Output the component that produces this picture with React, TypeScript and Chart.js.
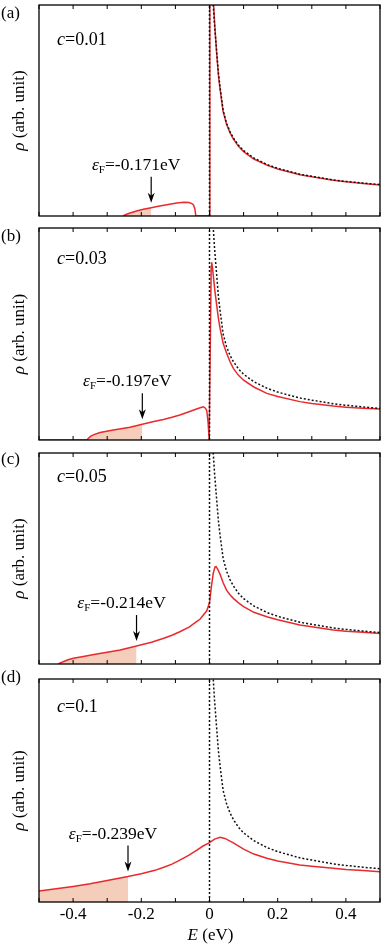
import React, { useEffect, useRef } from "react";
import { Chart, registerables } from "chart.js";

Chart.register(...registerables);

// ---------- data ----------
const X_TICK_LABELS = ["-0.4", "-0.2", "0", "0.2", "0.4"];
const PANEL_LABELS = ["(a)", "(b)", "(c)", "(d)"];
const CONCENTRATIONS = ["0.01", "0.03", "0.05", "0.1"];
const FERMI_LEVELS = [-0.171, -0.197, -0.214, -0.239];
const FERMI_TEXTS = ["-0.171eV", "-0.197eV", "-0.214eV", "-0.239eV"];

// clean DOS (black dotted), same in all panels
const CLEAN_E = [0, 0, 0.008, 0.011, 0.015, 0.021, 0.026, 0.031, 0.04, 0.05, 0.06, 0.07, 0.085, 0.1, 0.13, 0.17, 0.2, 0.265, 0.3, 0.363, 0.4, 0.45, 0.5];
const CLEAN_RHO = [0, 1.3, 1.3, 1.0, 0.9, 0.78, 0.68, 0.61, 0.5, 0.44, 0.4, 0.37, 0.335, 0.31, 0.275, 0.243, 0.226, 0.198, 0.188, 0.171, 0.164, 0.156, 0.149];

// disordered DOS (red), c = 0.01
const RED_A_E = [-0.253, -0.245, -0.233, -0.214, -0.194, -0.171, -0.15, -0.125, -0.096, -0.075, -0.06, -0.052, -0.047, -0.043, -0.04, 0.0005, 0.001, 0.009, 0.012, 0.016, 0.021, 0.026, 0.031, 0.04, 0.05, 0.06, 0.07, 0.085, 0.1, 0.13, 0.17, 0.2, 0.265, 0.3, 0.363, 0.4, 0.45, 0.5];
const RED_A_RHO = [0, 0.007, 0.014, 0.024, 0.032, 0.039, 0.046, 0.053, 0.062, 0.065, 0.064, 0.059, 0.052, 0.035, 0, 0, 1.3, 1.3, 1.0, 0.89, 0.77, 0.67, 0.6, 0.495, 0.435, 0.395, 0.365, 0.33, 0.305, 0.27, 0.24, 0.223, 0.196, 0.186, 0.169, 0.162, 0.154, 0.147];

// c = 0.03
const RED_B_E = [-0.5, -0.36, -0.35, -0.341, -0.321, -0.282, -0.233, -0.197, -0.16, -0.135, -0.11, -0.087, -0.06, -0.038, -0.025, -0.018, -0.012, -0.008, -0.004, -0.001, 0.0005, 0.005, 0.0064, 0.009, 0.011, 0.016, 0.021, 0.026, 0.031, 0.04, 0.05, 0.06, 0.07, 0.085, 0.1, 0.13, 0.168, 0.2, 0.265, 0.3, 0.363, 0.4, 0.45, 0.5];
const RED_B_RHO = [0, 0, 0.016, 0.024, 0.035, 0.047, 0.06, 0.074, 0.088, 0.097, 0.107, 0.118, 0.133, 0.146, 0.153, 0.157, 0.15, 0.138, 0.08, 0, 0, 0.82, 0.838, 0.81, 0.778, 0.7, 0.637, 0.575, 0.527, 0.456, 0.41, 0.37, 0.338, 0.305, 0.282, 0.25, 0.22, 0.205, 0.181, 0.172, 0.16, 0.155, 0.15, 0.146];

// c = 0.05
const RED_C_E = [-0.443, -0.436, -0.429, -0.415, -0.399, -0.37, -0.331, -0.3, -0.262, -0.214, -0.17, -0.134, -0.11, -0.087, -0.06, -0.04, -0.028, -0.018, -0.008, 0, 0.005, 0.011, 0.016, 0.019, 0.024, 0.031, 0.04, 0.05, 0.06, 0.07, 0.085, 0.1, 0.13, 0.168, 0.2, 0.265, 0.3, 0.363, 0.4, 0.45, 0.5];
const RED_C_RHO = [0, 0.006, 0.011, 0.02, 0.027, 0.036, 0.047, 0.056, 0.066, 0.085, 0.103, 0.122, 0.136, 0.153, 0.175, 0.198, 0.212, 0.232, 0.252, 0.29, 0.36, 0.43, 0.46, 0.462, 0.45, 0.425, 0.385, 0.35, 0.328, 0.311, 0.29, 0.272, 0.245, 0.224, 0.21, 0.185, 0.177, 0.161, 0.155, 0.15, 0.145];

// c = 0.1
const RED_D_E = [-0.5, -0.45, -0.4, -0.35, -0.3, -0.239, -0.2, -0.16, -0.134, -0.11, -0.087, -0.06, -0.038, -0.02, 0, 0.015, 0.031, 0.045, 0.07, 0.1, 0.13, 0.168, 0.2, 0.265, 0.3, 0.363, 0.4, 0.45, 0.5];
const RED_D_RHO = [0.049, 0.059, 0.07, 0.082, 0.096, 0.114, 0.127, 0.142, 0.156, 0.17, 0.188, 0.21, 0.232, 0.25, 0.266, 0.282, 0.29, 0.285, 0.265, 0.237, 0.215, 0.196, 0.184, 0.166, 0.16, 0.151, 0.146, 0.141, 0.136];

const RED_E = [RED_A_E, RED_B_E, RED_C_E, RED_D_E];
const RED_RHO = [RED_A_RHO, RED_B_RHO, RED_C_RHO, RED_D_RHO];

// ---------- layout / style ----------
const SERIF = '"Liberation Serif", "Times New Roman", Times, serif';
const RED = "rgb(232, 42, 46)";
const FILL = "rgb(244, 206, 186)";

const LAYOUT = [
  { top: 0, height: 222, padTop: 5, padBottom: 6, labelY: 17.5, cY: 45 },
  { top: 222, height: 225, padTop: 6, padBottom: 7, labelY: 19, cY: 42 },
  { top: 447, height: 219, padTop: 6, padBottom: 2, labelY: 17, cY: 35 },
  { top: 666, height: 282, padTop: 13, padBottom: 0, labelY: 16, cY: 46 },
];

type P = { x: number; y: number };
const toPoints = (xs: number[], ys: number[]): P[] => xs.map((x, i) => ({ x, y: ys[i] }));

type Part = { t: string; font: string; dy?: number };
function drawRich(ctx: CanvasRenderingContext2D, parts: Part[], x: number, y: number, align: "left" | "center") {
  let w = 0;
  for (const p of parts) {
    ctx.font = p.font;
    w += ctx.measureText(p.t).width;
  }
  let cx = align === "center" ? x - w / 2 : x;
  ctx.textAlign = "left";
  ctx.textBaseline = "alphabetic";
  for (const p of parts) {
    ctx.font = p.font;
    ctx.fillText(p.t, cx, y + (p.dy || 0));
    cx += ctx.measureText(p.t).width;
  }
}

function labelFor(v: number): string {
  for (const l of X_TICK_LABELS) if (Math.abs(parseFloat(l) - v) < 1e-6) return l;
  return "";
}

function Panel({ idx }: { idx: number }) {
  const ref = useRef<HTMLCanvasElement>(null);
  const L = LAYOUT[idx];
  useEffect(() => {
    const red = toPoints(RED_E[idx], RED_RHO[idx]);
    const clean = toPoints(CLEAN_E, CLEAN_RHO);
    const ef = FERMI_LEVELS[idx];
    const fill = red.filter((p) => p.x <= ef + 1e-9);
    const efPoint = red.find((p) => Math.abs(p.x - ef) < 1e-9) || fill[fill.length - 1];
    const isBottom = idx === 3;
    const f17 = `17px ${SERIF}`;
    const i17 = `italic 17px ${SERIF}`;
    const f18 = `18px ${SERIF}`;
    const i18 = `italic 18px ${SERIF}`;
    const fAnn = `17.5px ${SERIF}`;
    const iAnn = `italic 17.5px ${SERIF}`;

    const decor = {
      id: "decor" + idx,
      afterDatasetsDraw(chart: any) {
        const { ctx, chartArea: ca, scales } = chart;
        const xs = scales.x;
        const ys = scales.y;
        ctx.save();
        ctx.strokeStyle = "#000";
        ctx.fillStyle = "#000";
        ctx.lineWidth = 1.3;
        ctx.strokeRect(ca.left, ca.top, ca.right - ca.left, ca.bottom - ca.top);
        ctx.lineWidth = 1;
        for (const t of xs.ticks) {
          const px = xs.getPixelForValue(t.value);
          ctx.beginPath();
          ctx.moveTo(px, ca.bottom);
          ctx.lineTo(px, ca.bottom - 4);
          ctx.moveTo(px, ca.top);
          ctx.lineTo(px, ca.top + 4);
          ctx.stroke();
        }
        drawRich(ctx, [{ t: PANEL_LABELS[idx], font: f17 }], 1, L.labelY, "left");
        drawRich(ctx, [{ t: "c", font: i18 }, { t: "=" + CONCENTRATIONS[idx], font: f18 }], 57, L.cY, "left");
        ctx.save();
        ctx.translate(24, (ca.top + ca.bottom) / 2);
        ctx.rotate(-Math.PI / 2);
        drawRich(ctx, [{ t: "ρ", font: i17 }, { t: " (arb. unit)", font: f17 }], 0, 0, "center");
        ctx.restore();
        const ax = xs.getPixelForValue(ef);
        const cy = ys.getPixelForValue(efPoint.y);
        const yEnd = cy - 5;
        const yStart = cy - 31;
        ctx.lineWidth = 1.2;
        ctx.beginPath();
        ctx.moveTo(ax, yStart);
        ctx.lineTo(ax, yEnd - 4);
        ctx.stroke();
        ctx.beginPath();
        ctx.moveTo(ax, yEnd);
        ctx.lineTo(ax - 3.5, yEnd - 10);
        ctx.lineTo(ax, yEnd - 7);
        ctx.lineTo(ax + 3.5, yEnd - 10);
        ctx.closePath();
        ctx.fill();
        drawRich(
          ctx,
          [
            { t: "ε", font: iAnn },
            { t: "F", font: `11px ${SERIF}`, dy: 3 },
            { t: "=" + FERMI_TEXTS[idx], font: fAnn },
          ],
          ax - 15,
          cy - 38,
          "center"
        );
        if (isBottom) {
          drawRich(ctx, [{ t: "E", font: i17 }, { t: " (eV)", font: f17 }], (ca.left + ca.right) / 2 + 1, ca.bottom + 38, "center");
        }
        ctx.restore();
      },
    };

    let chart: any = null;
    let cancelled = false;
    const build = () => {
      if (cancelled || !ref.current) return;
      chart = new Chart(ref.current as HTMLCanvasElement, {
        type: "line",
        data: {
          datasets: [
            { data: clean, borderColor: "#111", borderWidth: 1.5, borderDash: [2, 2], pointRadius: 0, fill: false, tension: 0 },
            { data: red, borderColor: RED, borderWidth: 1.5, pointRadius: 0, fill: false, tension: 0 },
            { data: fill, borderColor: "rgba(0,0,0,0)", borderWidth: 1, backgroundColor: FILL, pointRadius: 0, fill: "origin", tension: 0 },
          ],
        } as any,
        options: {
          responsive: false,
          animation: false,
          events: [],
          layout: { padding: { left: 39, right: 2, top: L.padTop, bottom: L.padBottom } },
          plugins: { legend: { display: false }, tooltip: { enabled: false } },
          scales: {
            x: {
              type: "linear",
              min: -0.5,
              max: 0.5,
              position: "bottom",
              grid: { display: false, drawTicks: false },
              border: { display: false },
              ticks: {
                display: isBottom,
                stepSize: 0.1,
                autoSkip: false,
                maxRotation: 0,
                padding: 2,
                color: "#000",
                font: { family: SERIF, size: 17 },
                callback: (v: any) => labelFor(Number(v)),
              },
              afterFit: (s: any) => {
                s.height = isBottom ? 46 : 0;
              },
            },
            y: { display: false, min: 0, max: 1 },
          },
        } as any,
        plugins: [decor],
      });
    };
    const fonts: any = (document as any).fonts;
    if (fonts && fonts.load) {
      Promise.all([
        fonts.load('17px "Liberation Serif"'),
        fonts.load('italic 17px "Liberation Serif"'),
        fonts.load('11px "Liberation Serif"'),
      ])
        .catch(() => null)
        .then(() => build());
    } else {
      build();
    }
    return () => {
      cancelled = true;
      if (chart) chart.destroy();
    };
  }, [idx]);
  return (
    <canvas
      ref={ref}
      width={382}
      height={L.height}
      style={{ position: "absolute", left: 0, top: L.top, width: 382, height: L.height, display: "block" }}
    />
  );
}

export default function App() {
  return (
    <div style={{ position: "absolute", left: 0, top: 0, width: 382, height: 948, background: "#fff" }}>
      {[0, 1, 2, 3].map((i) => (
        <Panel key={i} idx={i} />
      ))}
    </div>
  );
}
